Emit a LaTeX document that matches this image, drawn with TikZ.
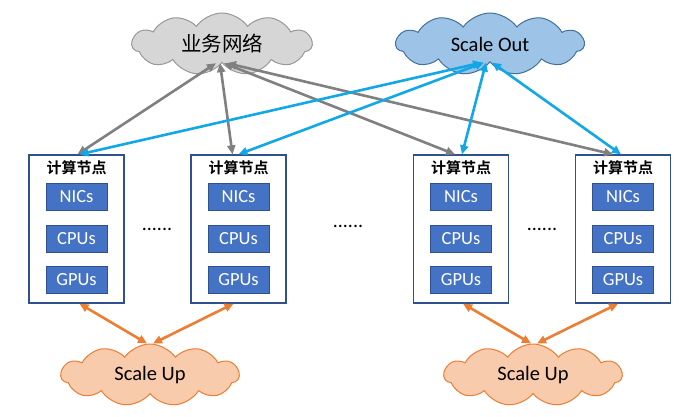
\documentclass[tikz,border=0pt]{standalone}
\usepackage{fontspec}
\setmainfont{Carlito}
\newfontfamily\cjk{Noto Sans CJK SC}[BoldFont={Noto Sans CJK SC Bold}]
\usetikzlibrary{shapes.symbols,arrows.meta}
\definecolor{boxblue}{HTML}{4472C4}
\definecolor{boxedge}{HTML}{2F528F}
\definecolor{gline}{HTML}{808080}
\definecolor{bline}{HTML}{12A8E8}
\definecolor{oline}{HTML}{ED7D31}
\definecolor{gfill}{HTML}{D6D6D6}
\definecolor{gedge}{HTML}{989898}
\definecolor{bfill}{HTML}{9DC3E6}
\definecolor{bedge}{HTML}{41719C}
\definecolor{ofill}{HTML}{F8CBAD}
\definecolor{oedge}{HTML}{ED7D31}
\tikzset{
  outerbox/.style={draw=boxedge, line width=1.3pt, minimum width=95pt, minimum height=148pt, inner sep=0pt},
  part/.style={draw=boxedge, line width=0.8pt, fill=boxblue, text=white, font=\fontsize{18.5}{18.5}\selectfont, minimum width=61pt, minimum height=27pt, inner sep=0pt},
  boxtitle/.style={font=\cjk\bfseries\fontsize{15}{15}\selectfont, inner sep=0pt},
  cloudnode/.style={cloud, cloud puffs=11, cloud puff arc=110, aspect=3.2, minimum width=180pt, minimum height=62pt, inner sep=0pt, line width=1pt, font=\fontsize{20.5}{20.5}\selectfont},
  link/.style={line width=2.6pt, {Triangle[length=9pt,width=8pt]}-{Triangle[length=9pt,width=8pt]}},
  dotstxt/.style={font=\fontsize{20}{20}\selectfont, inner sep=0pt}
}
\begin{document}
\begin{tikzpicture}[x=1pt,y=-1pt]
\fill[white] (0,0) rectangle (700,416);
\useasboundingbox (0,0) rectangle (700,416);
% clouds
\node[cloudnode, fill=gfill, draw=gedge] (biz) at (222,44) {\cjk 业务网络};
\node[cloudnode, fill=bfill, draw=bedge, minimum width=188pt] (out) at (490,44) {Scale Out};
\node[cloudnode, fill=ofill, draw=oedge, minimum width=178pt] (up1) at (150,375) {Scale Up};
\node[cloudnode, fill=ofill, draw=oedge, minimum width=178pt] (up2) at (533,375) {Scale Up};
% compute nodes
\foreach \n/\x in {1/76.5, 2/238.5, 3/461, 4/623} {
  \node[outerbox] (n\n) at (\x,229) {};
  \node[boxtitle] (t\n) at (\x,168) {计算节点};
  \node[part] (nic\n) at (\x,197) {NICs};
  \node[part] (cpu\n) at (\x,239) {CPUs};
  \node[part] (gpu\n) at (\x,280) {GPUs};
}
\node[dotstxt] (d1) at (157,229) {......};
\node[dotstxt] (d2) at (348,226) {......};
\node[dotstxt] (d3) at (542,229) {......};
% gray links
\draw[link, gline] ([xshift=-6pt]biz.south) -- ([xshift=1pt]n1.north);
\draw[link, gline] ([xshift=-2pt]biz.south) -- ([xshift=-6pt]n2.north);
\draw[link, gline] ([xshift=2pt]biz.south) -- ([xshift=-6pt]n3.north);
\draw[link, gline] ([xshift=5pt]biz.south) -- ([xshift=-10pt]n4.north);
% blue links
\draw[link, bline] ([xshift=-8pt]out.south) -- ([xshift=3pt]n1.north);
\draw[link, bline] ([xshift=-6pt]out.south) -- ([xshift=0pt]n2.north);
\draw[link, bline] ([xshift=-4pt]out.south) -- ([xshift=1pt]n3.north);
\draw[link, bline] ([xshift=2pt]out.south) -- ([xshift=-2pt]n4.north);
% orange links
\draw[link, oline] ([xshift=3pt]n1.south) -- ([xshift=-3pt]up1.north);
\draw[link, oline] ([xshift=-5pt]n2.south) -- ([xshift=3pt]up1.north);
\draw[link, oline] ([xshift=2pt]n3.south) -- ([xshift=-2pt]up2.north);
\draw[link, oline] ([xshift=-5pt]n4.south) -- ([xshift=4pt]up2.north);
\end{tikzpicture}
\end{document}
